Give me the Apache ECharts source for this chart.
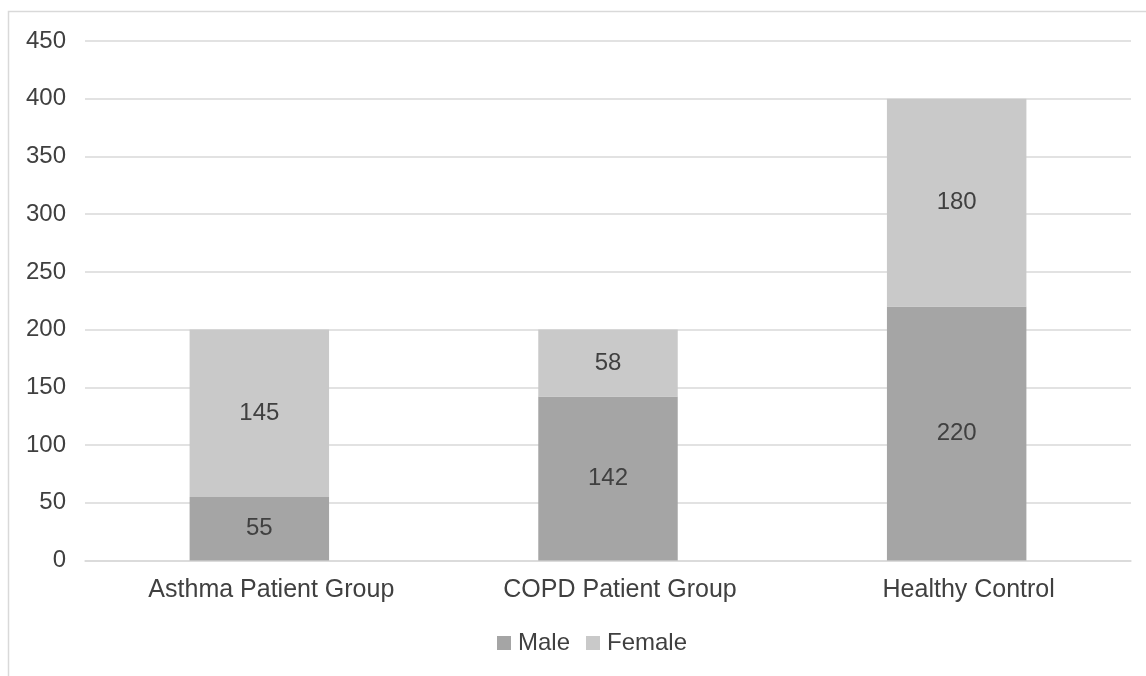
<!DOCTYPE html>
<html>
<head>
<meta charset="utf-8">
<script src="https://cdn.jsdelivr.net/npm/echarts@6/dist/echarts.min.js"></script>
<style>
  html, body { margin: 0; padding: 0; background: #ffffff; }
  #chart { width: 1146px; height: 676px; }
</style>
</head>
<body>
<div id="chart"></div>
<script>
// Participants per study group, split by sex
const groups = ['Asthma Patient Group', 'COPD Patient Group', 'Healthy Control'];
const maleCounts = [55, 142, 220];
const femaleCounts = [145, 58, 180];
const seriesNames = ['Male', 'Female'];

const textColor = '#404040';
const fontFamily = '"Liberation Sans", Arial, Helvetica, sans-serif';

const chart = echarts.init(document.getElementById('chart'));

const barLabel = {
  show: true,
  position: 'inside',
  color: textColor,
  fontSize: 24,
  fontFamily: fontFamily
};

chart.setOption({
  animation: false,
  textStyle: { fontFamily: fontFamily },
  graphic: [{
    type: 'rect',
    shape: { x: 8.5, y: 11.5, width: 1200, height: 800 },
    style: { fill: 'none', stroke: '#d9d9d9', lineWidth: 1.5 },
    silent: true,
    z: -1
  }],
  grid: { left: 85, right: 15, top: 41, bottom: 115.5, containLabel: false },
  legend: {
    data: seriesNames,
    bottom: 16,
    left: 492,
    itemWidth: 14,
    itemHeight: 14,
    itemGap: 16,
    icon: 'rect',
    textStyle: { color: textColor, fontSize: 24, fontFamily: fontFamily, padding: [0, 0, 0, 2] }
  },
  xAxis: {
    type: 'category',
    data: groups,
    axisLine: { lineStyle: { color: '#d9d9d9', width: 1.5 } },
    axisTick: { show: false },
    axisLabel: { color: textColor, fontSize: 25, margin: 17, padding: [0, 0, 0, 24], fontFamily: fontFamily }
  },
  yAxis: {
    type: 'value',
    min: 0,
    max: 450,
    interval: 50,
    axisLine: { show: false },
    axisTick: { show: false },
    splitLine: { lineStyle: { color: '#d9d9d9', width: 1.5 } },
    axisLabel: { color: textColor, fontSize: 24, margin: 19, fontFamily: fontFamily }
  },
  series: [
    {
      name: seriesNames[0],
      type: 'bar',
      stack: 'total',
      data: maleCounts,
      barWidth: '40%',
      itemStyle: { color: '#a5a5a5' },
      label: barLabel
    },
    {
      name: seriesNames[1],
      type: 'bar',
      stack: 'total',
      data: femaleCounts,
      barWidth: '40%',
      itemStyle: { color: '#c9c9c9' },
      label: barLabel
    }
  ]
});
</script>
</body>
</html>
